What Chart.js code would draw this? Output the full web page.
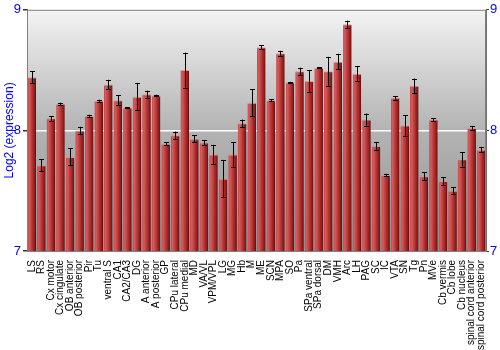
<!DOCTYPE html>
<html>
<head>
<meta charset="utf-8">
<script src="https://cdn.jsdelivr.net/npm/chart.js@4/dist/chart.umd.min.js"></script>
<style>
  html, body { margin: 0; padding: 0; background: #fff; }
  #wrap { width: 500px; height: 350px; }
</style>
</head>
<body>
<div id="wrap"><canvas id="chart" width="500" height="350"></canvas></div>
<script>
// Regions and values
const regions = ['LS', 'RS', 'Cx motor', 'Cx cingulate', 'OB anterior', 'OB posterior', 'Pir', 'Tu',
    'ventral S', 'CA1', 'CA2/CA3', 'DG', 'A anterior', 'A posterior', 'GP', 'CPu lateral', 'CPu medial',
    'MD', 'VA/VL', 'VPM/VPL', 'LG', 'MG', 'Hb', 'M', 'ME', 'SCN', 'MPA', 'SO', 'Pa', 'SPa ventral',
    'SPa dorsal', 'DM', 'VMH', 'Arc', 'LH', 'PAG', 'SC', 'IC', 'VTA', 'SN', 'Tg', 'Pn', 'MVe',
    'Cb vermis', 'Cb lobe', 'Cb nucleus', 'spinal cord anterior', 'spinal cord posterior'];
const expression = [8.44, 7.71, 8.10, 8.22, 7.78, 8.00, 8.12, 8.245, 8.38, 8.25, 8.19, 8.28, 8.30, 8.29,
    7.89, 7.96, 8.50, 7.93, 7.90, 7.80, 7.60, 7.80, 8.06, 8.23, 8.69, 8.25, 8.64, 8.40, 8.49, 8.41,
    8.52, 8.49, 8.57, 8.88, 8.47, 8.09, 7.87, 7.63, 8.27, 8.04, 8.37, 7.62, 8.09, 7.58, 7.50, 7.76,
    8.02, 7.84];
const errors = [0.05, 0.05, 0.02, 0.01, 0.07, 0.03, 0.01, 0.01, 0.04, 0.04, 0.003, 0.11, 0.03, 0.005,
    0.01, 0.03, 0.145, 0.03, 0.02, 0.08, 0.155, 0.1, 0.03, 0.11, 0.015, 0.01, 0.02, 0.003, 0.03, 0.09,
    0.005, 0.12, 0.065, 0.03, 0.06, 0.05, 0.03, 0.01, 0.015, 0.085, 0.06, 0.035, 0.01, 0.03, 0.03, 0.06,
    0.015, 0.02];
const yTicks = [7, 8, 9];

const BAR_PCT = 0.9;

// shaded cylinder look for each bar
function barGradient(ctx) {
    const chart = ctx.chart;
    const area = chart.chartArea;
    const xs = chart.scales.x;
    if (!area || !xs) return '#b03030';
    const pitch = area.width / regions.length;
    const w = pitch * BAR_PCT;
    const cx = xs.getPixelForValue(ctx.dataIndex);
    const g = chart.ctx.createLinearGradient(cx - w / 2, 0, cx + w / 2, 0);
    g.addColorStop(0, '#c24a4a');
    g.addColorStop(0.2, '#d45c5c');
    g.addColorStop(0.55, '#b53333');
    g.addColorStop(0.85, '#8a1a1a');
    g.addColorStop(1, '#5e0808');
    return g;
}

const backgroundPlugin = {
    id: 'plotBackground',
    beforeDraw(chart) {
        const { ctx, chartArea: a } = chart;
        const g = ctx.createLinearGradient(0, a.top, 0, a.bottom);
        g.addColorStop(0, '#f3f3f3');
        g.addColorStop(0.5, '#b3b3b3');
        g.addColorStop(1, '#939393');
        ctx.save();
        ctx.fillStyle = g;
        ctx.fillRect(a.left, a.top, a.width, a.height);
        ctx.restore();
    },
    afterDraw(chart) {
        const { ctx, chartArea: a } = chart;
        ctx.save();
        ctx.strokeStyle = '#808080';
        ctx.lineWidth = 1;
        ctx.strokeRect(a.left + 0.5, a.top + 0.5, a.width - 1, a.height);
        ctx.restore();
    }
};

// error bars drawn through the scales
const errorBarPlugin = {
    id: 'errorBars',
    afterDatasetsDraw(chart) {
        const { ctx, scales } = chart;
        ctx.save();
        ctx.strokeStyle = '#000';
        ctx.lineWidth = 1;
        expression.forEach((v, i) => {
            const x = Math.round(scales.x.getPixelForValue(i)) + 0.5;
            const top = scales.y.getPixelForValue(v + errors[i]);
            const bot = scales.y.getPixelForValue(v - errors[i]);
            ctx.beginPath();
            ctx.moveTo(x, top);
            ctx.lineTo(x, bot);
            ctx.moveTo(x - 2.5, Math.round(top) + 0.5);
            ctx.lineTo(x + 2.5, Math.round(top) + 0.5);
            ctx.moveTo(x - 2.5, Math.round(bot) + 0.5);
            ctx.lineTo(x + 2.5, Math.round(bot) + 0.5);
            ctx.stroke();
        });
        ctx.restore();
    }
};

const ctx = document.getElementById('chart').getContext('2d');
const chart = new Chart(ctx, {
    type: 'bar',
    data: {
        labels: regions,
        datasets: [{
            label: 'Log2 (expression)',
            data: expression,
            backgroundColor: barGradient,
            borderColor: 'rgba(225, 140, 140, 0.8)',
            borderWidth: { top: 1, left: 0, right: 0, bottom: 0 },
            borderSkipped: false,
            barPercentage: BAR_PCT,
            categoryPercentage: 1.0
        }]
    },
    options: {
        responsive: false,
        animation: false,
        devicePixelRatio: 1,
        layout: { padding: { top: 9, right: 0, left: 0, bottom: 0 } },
        plugins: {
            legend: { display: false },
            tooltip: { enabled: false }
        },
        scales: {
            x: {
                grid: { display: false },
                border: { display: false },
                ticks: {
                    autoSkip: false,
                    maxRotation: 90,
                    minRotation: 90,
                    padding: 1,
                    color: '#000',
                    font: { family: 'Liberation Sans, Arial, sans-serif', size: 10 }
                },
                afterFit(scale) { scale.height = 99; }
            },
            y: {
                position: 'left',
                min: 7,
                max: 9,
                afterBuildTicks(scale) { scale.ticks = yTicks.map(v => ({ value: v })); },
                grid: {
                    color: c => (c.tick && c.tick.value === 8 ? '#ffffff' : 'rgba(0,0,0,0)'),
                    tickColor: '#333',
                    tickLength: 4,
                    lineWidth: 1.5
                },
                border: { display: true, color: '#707070' },
                ticks: {
                    color: '#0000ff',
                    padding: 2,
                    font: { family: 'Liberation Sans, Arial, sans-serif', size: 13 }
                },
                title: {
                    display: true,
                    text: 'Log2 (expression)',
                    color: '#0000ff',
                    padding: { top: 2, bottom: 0 },
                    font: { family: 'Liberation Sans, Arial, sans-serif', size: 12 }
                },
                afterFit(scale) { scale.width = 27; }
            },
            y2: {
                position: 'right',
                min: 7,
                max: 9,
                afterBuildTicks(scale) { scale.ticks = yTicks.map(v => ({ value: v })); },
                grid: { drawOnChartArea: false, tickColor: '#333', tickLength: 3 },
                border: { display: true, color: '#707070' },
                ticks: {
                    color: '#0000ff',
                    padding: 1,
                    font: { family: 'Liberation Sans, Arial, sans-serif', size: 13 }
                },
                afterFit(scale) { scale.width = 14; }
            }
        }
    },
    plugins: [backgroundPlugin, errorBarPlugin]
});
</script>
</body>
</html>
